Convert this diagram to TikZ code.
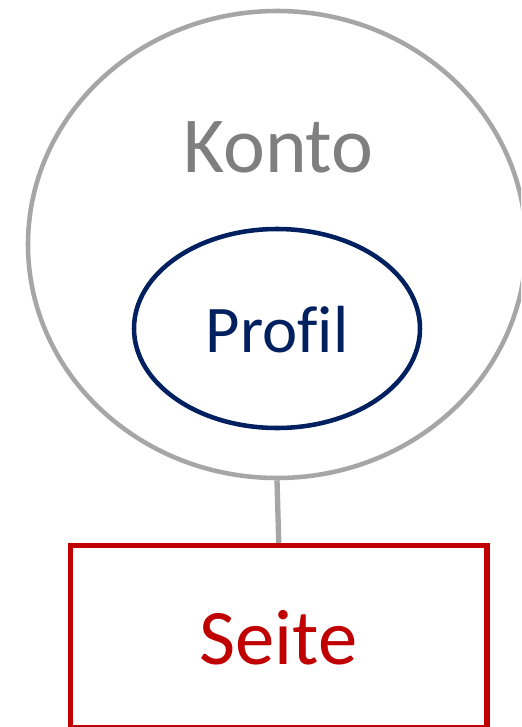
\documentclass[tikz,border=0pt]{standalone}
\usepackage{fontspec}
\setmainfont{Carlito}[Ligatures=NoCommon]
\usetikzlibrary{shapes.geometric}
\definecolor{ringgray}{HTML}{A6A6A6}
\definecolor{textgray}{HTML}{7F7F7F}
\definecolor{navy}{HTML}{002060}
\definecolor{darkred}{HTML}{C00000}
\tikzset{
  outerring/.style={ellipse, draw=ringgray, line width=3.4pt, minimum width=373.5pt, minimum height=350.25pt, inner sep=0pt},
  innerring/.style={ellipse, draw=navy, line width=3.4pt, minimum width=214.5pt, minimum height=149.25pt, inner sep=0pt},
  pagebox/.style={rectangle, draw=darkred, line width=4pt, minimum width=312.4pt, minimum height=136.9pt, inner sep=0pt},
  lbl/.style={anchor=base, inner sep=0pt},
  link/.style={draw=ringgray, line width=4pt}
}
\begin{document}
\begin{tikzpicture}[x=0.75pt,y=-0.75pt]
\useasboundingbox (0,0) rectangle (521,727);
\clip (0,0) rectangle (521,727);
\fill[white] (0,0) rectangle (521,727);
\node[outerring] (konto) at (277,244.5) {};
\node[lbl, text=textgray, font=\fontsize{59.5}{70}\selectfont] (kontotext) at (278.5,173) {Konto};
\node[innerring] (profil) at (277,328.5) {};
\node[lbl, text=navy, font=\fontsize{50}{60}\selectfont] (profiltext) at (277,352) {Profil};
\node[pagebox] (seite) at (278.75,636.75) {};
\node[lbl, text=darkred, font=\fontsize{59}{70}\selectfont] (seitetext) at (278.5,664) {Seite};
\draw[link] (konto.south) -- (seite.north);
\end{tikzpicture}
\end{document}
